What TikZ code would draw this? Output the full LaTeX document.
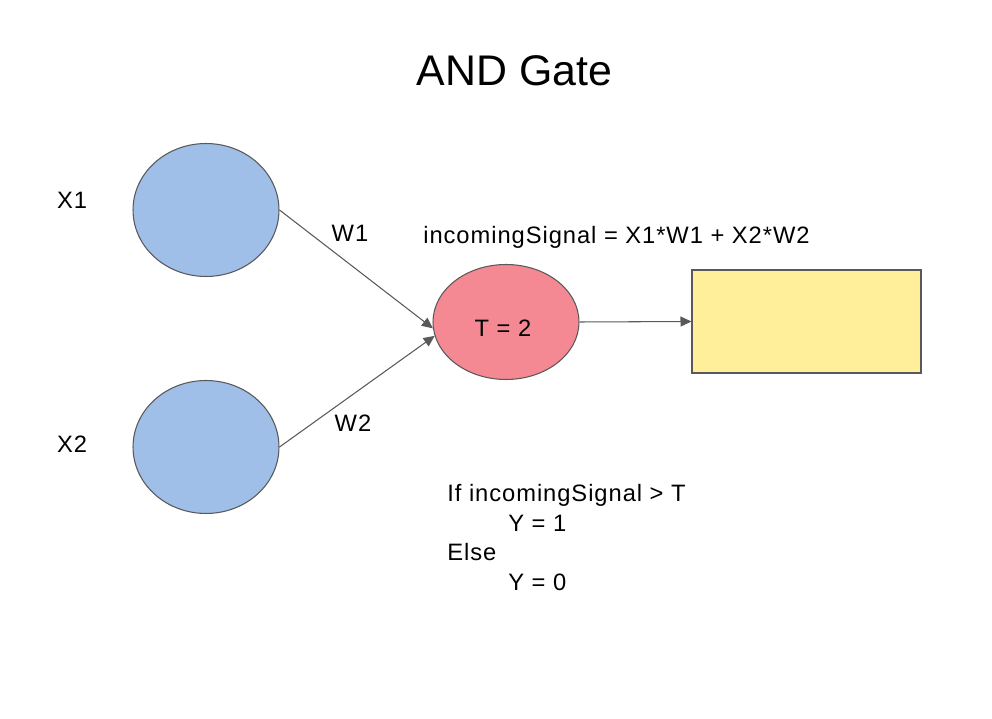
\documentclass[tikz,border=0pt]{standalone}
\usepackage{fontspec}
\setmainfont{Liberation Sans}
\newfontfamily\labelfont[LetterSpace=4]{Liberation Sans}
\usepackage{tikz}
\usetikzlibrary{shapes.geometric, arrows.meta}
\definecolor{inputblue}{HTML}{9FBEE8}
\definecolor{threshred}{HTML}{F48993}
\definecolor{outyellow}{HTML}{FFEF9A}
\definecolor{edgegrey}{HTML}{595959}

\begin{document}
\begin{tikzpicture}[x=0.02cm, y=-0.02cm, >={Triangle[length=0.22cm, width=0.2cm]},
  neuron/.style={ellipse, draw=edgegrey, line width=0.6pt, inner sep=0pt, minimum width=2.92cm},
  txt/.style={font=\labelfont\fontsize{13.5}{16}\selectfont, inner sep=0pt}]
\useasboundingbox (0,0) rectangle (992,719);
%\draw[help lines] (0,0) grid (992,719);
\node [inner sep=0pt, font=\fontsize{24.4}{29}\selectfont, anchor=base] (title) at (514.5,86) {AND Gate};

\node [neuron, fill=inputblue, minimum height=2.66cm] (x1) at (206,210) {};
\node [neuron, fill=inputblue, minimum height=2.66cm] (x2) at (206,447) {};
\node [neuron, fill=threshred, minimum height=2.3cm] (thr) at (506,322) {};
\node [draw=edgegrey, line width=0.6pt, fill=outyellow, minimum width=4.58cm, minimum height=2.06cm, inner sep=0pt] (out) at (806.5,321.5) {};

\node [txt, anchor=base] (x1lab) at (72,209) {X1};
\node [txt, anchor=base] (x2lab) at (72,453) {X2};
\node [txt, anchor=base] (w1) at (350,242) {W1};
\node [txt, anchor=base] (w2) at (353,432) {W2};
\node [txt, anchor=base] (tval) at (503,337) {T = 2};
\node [txt, anchor=base west] (signal) at (423,244) {incomingSignal = X1*W1 + X2*W2};

\node [txt, anchor=base west] (iftxt) at (447,502) {If incomingSignal > T};
\node [txt, anchor=base west] (ythen) at (508,532) {Y = 1};
\node [txt, anchor=base west] (elsetxt) at (447,561) {Else};
\node [txt, anchor=base west] (yelse) at (508,591) {Y = 0};

\draw [edgegrey, line width=0.6pt, ->] (x1.east) -- (thr.185);
\draw [edgegrey, line width=0.6pt, ->] (x2.east) -- (thr.191);
\draw [edgegrey, line width=0.6pt, ->] (thr.east) -- (out.west);
\end{tikzpicture}
\end{document}
